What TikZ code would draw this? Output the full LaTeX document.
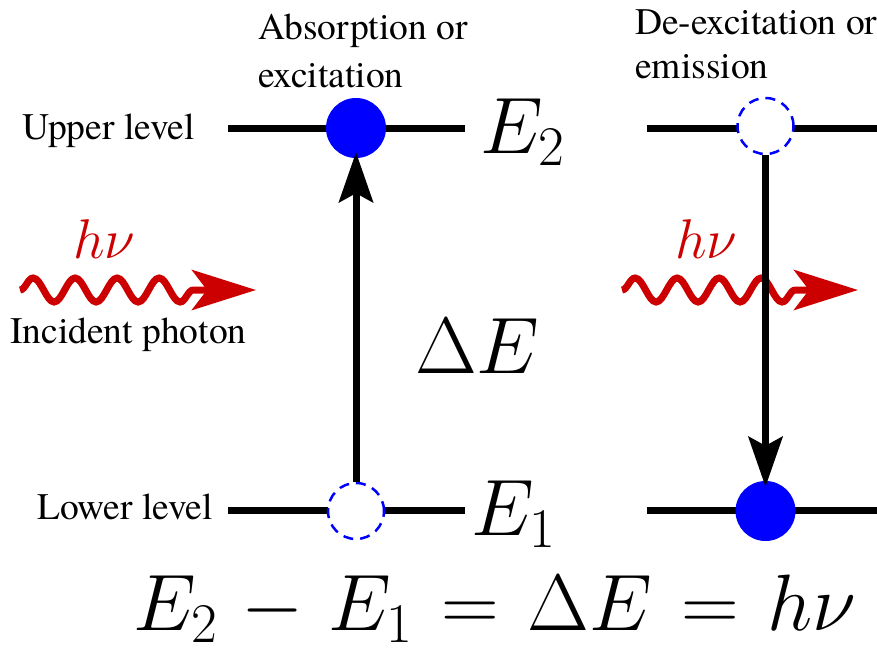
\RequirePackage{fix-cm}
\documentclass[tikz,border=0pt]{standalone}
\usepackage[no-math]{fontspec}
\IfFontExistsTF{TeX Gyre Termes}{\newfontfamily\tnr{TeX Gyre Termes}}{\newfontfamily\tnr{Liberation Serif}}
\usetikzlibrary{arrows.meta,decorations.pathmorphing}
\definecolor{phred}{RGB}{204,0,0}
\newcommand\widemath{\medmuskip=5.5mu\relax\thickmuskip=6.5mu\relax}
\begin{document}
\begin{tikzpicture}[x=1pt,y=-1pt,
 level/.style={line width=7pt},
 full/.style={circle,fill=blue,minimum size=60pt,inner sep=0pt},
 empty/.style={circle,draw=blue,fill=white,dash pattern=on 10pt off 7pt,line width=2.5pt,minimum size=56pt,inner sep=0pt},
 trans/.style={line width=7pt,-{Stealth[length=50pt,width=34pt,inset=9pt]}},
 photon/.style={phred,line width=7pt,decorate,decoration={snake,segment length=42pt,amplitude=12pt,post length=56pt},-{Stealth[length=64pt,width=40pt,inset=15pt]}},
 lbl/.style={font=\tnr\fontsize{37.5}{44}\selectfont,inner sep=0pt},
 big/.style={font=\fontsize{80}{96}\selectfont\widemath,inner sep=0pt,anchor=base west},
 hv/.style={font=\fontsize{56}{66}\selectfont,text=phred,inner sep=0pt,anchor=base west}]
\useasboundingbox (0,0) rectangle (877,651);
% level lines
\coordinate (l1a) at (228,128); \coordinate (l1b) at (465,128);
\coordinate (l2a) at (228,510); \coordinate (l2b) at (465,510);
\coordinate (r1a) at (647,128); \coordinate (r1b) at (877,128);
\coordinate (r2a) at (647,510); \coordinate (r2b) at (877,510);
\draw[level] (l1a) -- (l1b);
\draw[level] (l2a) -- (l2b);
\draw[level] (r1a) -- (r1b);
\draw[level] (r2a) -- (r2b);
% photons
\coordinate (p1a) at (20,290); \coordinate (p1b) at (256,290);
\coordinate (p2a) at (622,290); \coordinate (p2b) at (858,290);
\draw[photon] (p1a) -- (p1b);
\draw[photon] (p2a) -- (p2b);
% states
\node[full] (aup) at (356,128) {};
\node[empty] (alo) at (356,511) {};
\node[empty] (eup) at (765.5,126) {};
\node[full] (elo) at (765.5,511) {};
\draw[trans, shorten >=-6pt] (alo) -- (aup);
\draw[trans, shorten >=-6pt] (eup) -- (elo);
% labels
\node[lbl,anchor=base east] (ul) at (195,139) {Upper level};
\node[lbl,anchor=base east] (ll) at (213,519) {Lower level};
\node[lbl,anchor=base west] (ip) at (10,343) {Incident photon};
\node[lbl,anchor=north west,align=left] (abs) at (258,14) {Absorption or\\[4pt]excitation};
\node[lbl,anchor=north west,align=left] (emi) at (635,9) {De-excitation or\\emission};
\node[hv] (hv1) at (73,258) {$h\nu$};
\node[hv] (hv2) at (675,258) {$h\nu$};
\node[big] (e2) at (480,153) {$E_2$};
\node[big] (e1) at (471,535) {$E_1$};
\node[big] (de) at (415,373) {$\Delta E$};
\node[big] (eq) at (133,630) {$E_2-E_1=\Delta E=h\nu$};
\end{tikzpicture}
\end{document}
